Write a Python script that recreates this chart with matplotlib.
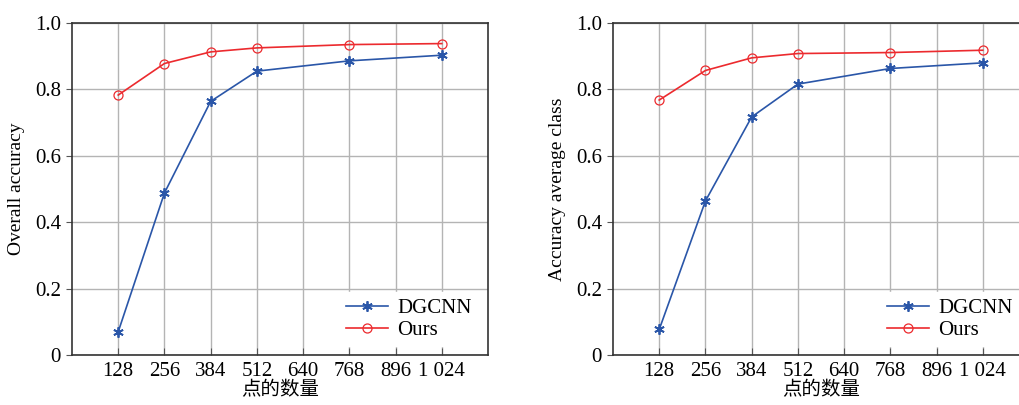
import matplotlib
matplotlib.use("Agg")
import matplotlib.pyplot as plt

plt.rcParams['font.family'] = ['Liberation Serif', 'Noto Sans CJK SC']
plt.rcParams['font.size'] = 14

# Data
points = [128, 256, 384, 512, 768, 1024]
oa_dgcnn = [0.070, 0.488, 0.764, 0.855, 0.886, 0.903]
oa_ours = [0.783, 0.878, 0.913, 0.925, 0.935, 0.938]
mac_dgcnn = [0.077, 0.464, 0.717, 0.816, 0.863, 0.880]
mac_ours = [0.768, 0.857, 0.895, 0.908, 0.911, 0.918]

xticks = [128, 256, 384, 512, 640, 768, 896, 1024]
xticklabels = ["128", "256", "384", "512", "640", "768", "896", "1 024"]
yticks = [0, 0.2, 0.4, 0.6, 0.8, 1.0]
yticklabels = ["0", "0.2", "0.4", "0.6", "0.8", "1.0"]

blue = "#2a56a8"
red = "#ec2a2e"

W, H = 1019, 405
fig = plt.figure(figsize=(W / 100, H / 100), dpi=100)

panels = [
    (72, oa_dgcnn, oa_ours, "Overall accuracy"),
    (613, mac_dgcnn, mac_ours, "Accuracy average class"),
]

for left, dg, ours, ylabel in panels:
    ax = fig.add_axes([left / W, (H - 355) / H, 416 / W, 332 / H])
    ax.plot(points, dg, color=blue, lw=1.2, marker=(6, 2, 0), ms=7.5,
            mew=1.3, label="DGCNN")
    ax.plot(points, ours, color=red, lw=1.2, marker="o", ms=6.5,
            mfc="none", mew=0.9, label="Ours")
    ax.set_xlim(0, 1152)
    ax.set_ylim(0, 1.0)
    ax.set_xticks(xticks)
    ax.set_xticklabels(xticklabels, fontsize=15)
    ax.set_yticks(yticks)
    ax.set_yticklabels(yticklabels, fontsize=15)
    ax.grid(True, color="#b4b4b4", lw=1.0)
    ax.set_axisbelow(True)
    ax.tick_params(axis="x", direction="in", length=5, color="#555555", pad=5)
    ax.tick_params(axis="y", direction="out", length=4, color="#555555", pad=4)
    for sp in ax.spines.values():
        sp.set_color("#333333")
        sp.set_linewidth(1.2)
    ax.set_ylabel(ylabel, fontsize=14, labelpad=7)
    ax.xaxis.set_label_coords(0.5, -0.105)
    ax.set_xlabel("点的数量", fontsize=14, va="center")
    ax.legend(loc="lower right", bbox_to_anchor=(1.0, -0.005), frameon=True,
              fancybox=False, edgecolor="white", framealpha=1.0,
              fontsize=15, handlelength=2.0, handletextpad=0.45,
              labelspacing=0.12, borderpad=0.3)

fig.savefig("out.png", dpi=100)
